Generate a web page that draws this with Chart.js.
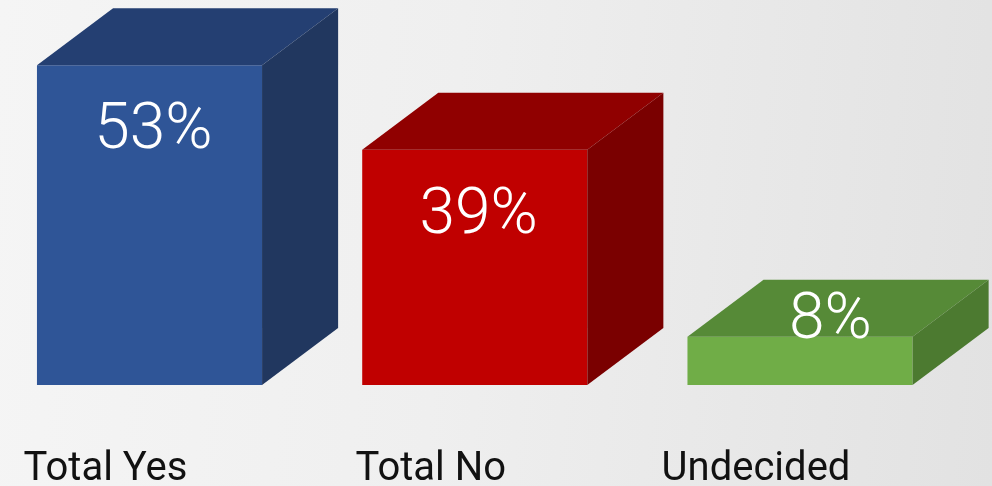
<!DOCTYPE html>
<html>
<head>
<meta charset="utf-8">
<script src="https://cdn.jsdelivr.net/npm/chart.js@4"></script>
<style>
  html, body { margin: 0; padding: 0; }
  body { width: 992px; height: 486px; overflow: hidden;
         background: linear-gradient(95deg, #f5f5f5 0%, #efefef 45%, #e2e2e2 100%); }
  #wrap { position: relative; width: 992px; height: 486px; }
</style>
</head>
<body>
<div id="wrap"><canvas id="myChart" width="992" height="486"></canvas></div>
<script>
// Poll results
const categories = ['Total Yes', 'Total No', 'Undecided'];
const shares = [53, 39, 8];

// Face colours for each box: front, top, right side
const frontColors = ['#2f5597', '#c00000', '#70ad47'];
const topColors = ['#243f72', '#900000', '#568a37'];
const sideColors = ['#21375f', '#7a0000', '#4c7a30'];

// Draws the top and side faces of each bar plus the value inside it
const boxes = {
    id: 'boxes',
    afterDatasetsDraw(chart) {
        const c = chart.ctx
        const meta = chart.getDatasetMeta(0)
        meta.data.forEach((bar, i) => {
            const { x, y, base, width } = bar.getProps(['x', 'y', 'base', 'width'], true)
            const left = x - width / 2
            const right = x + width / 2
            const dx = width * 0.338
            const dy = -dx * 0.75

            c.save()
            // top face
            c.fillStyle = topColors[i]
            c.beginPath()
            c.moveTo(left, y)
            c.lineTo(left + dx, y + dy)
            c.lineTo(right + dx, y + dy)
            c.lineTo(right, y)
            c.closePath()
            c.fill()

            // right side face
            c.fillStyle = sideColors[i]
            c.beginPath()
            c.moveTo(right, y)
            c.lineTo(right + dx, y + dy)
            c.lineTo(right + dx, base + dy)
            c.lineTo(right, base)
            c.closePath()
            c.fill()

            // value label, lifted onto the top face when the box is short
            const h = base - y
            const inside = h > 100
            const ty = inside ? y + 67 : y - 15
            const tx = inside ? x + 4 : x + dx * 0.4
            c.fillStyle = '#ffffff'
            c.font = '300 64px Roboto'
            c.textAlign = 'center'
            c.textBaseline = 'middle'
            c.fillText(shares[i] + '%', tx, ty)
            c.restore()
        })
    }
}

const ctx = document.getElementById('myChart')

new Chart(ctx, {
    type: 'bar',
    data: {
        labels: categories,
        datasets: [{
            data: shares,
            backgroundColor: frontColors,
            borderWidth: 0,
            categoryPercentage: 0.692,
            barPercentage: 1,
            clip: false
        }]
    },
    options: {
        responsive: false,
        animation: false,
        devicePixelRatio: 1,
        layout: {
            padding: { left: 149.5, right: 192, top: 23, bottom: 0 }
        },
        plugins: {
            legend: { display: false },
            tooltip: { enabled: false }
        },
        scales: {
            x: {
                offset: false,
                grid: { display: false, drawTicks: false },
                border: { display: false },
                // keep the axis band a fixed height under the bars
                afterFit: scale => { scale.height = 101 },
                ticks: {
                    color: '#111111',
                    font: { family: 'Roboto', size: 40 },
                    padding: 61,
                    labelOffset: -44,
                    maxRotation: 0,
                    autoSkip: false
                }
            },
            y: {
                display: false,
                min: 0,
                max: 60
            }
        }
    },
    plugins: [boxes]
})
</script>
</body>
</html>
